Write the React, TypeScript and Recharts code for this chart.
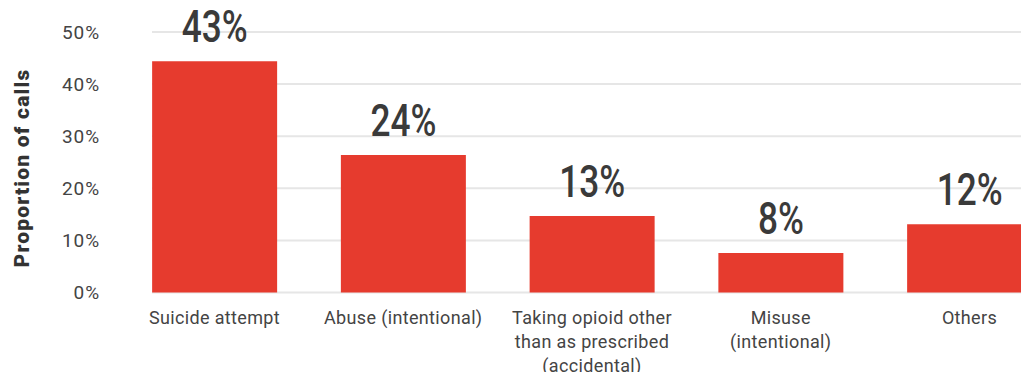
import React from "react";
import { BarChart, Bar, XAxis, YAxis, CartesianGrid, LabelList } from "recharts";

const categories = [
  "Suicide attempt",
  "Abuse (intentional)",
  "Taking opioid other\nthan as prescribed\n(accidental)",
  "Misuse\n(intentional)",
  "Others",
];
const values = [44.4, 26.4, 14.7, 7.6, 13.1];
const valueLabels = ["43%", "24%", "13%", "8%", "12%"];
const yTicks = [0, 10, 20, 30, 40, 50];

const data = categories.map((name, i) => ({
  name,
  value: values[i],
  label: valueLabels[i],
}));

const TEXT = "#444444";

function CategoryTick({ x, y, payload }: any) {
  const lines = String(payload.value).split("\n");
  return (
    <text
      x={x}
      y={y + 31}
      textAnchor="middle"
      fill={TEXT}
      fontFamily="Roboto, sans-serif"
      fontSize={18}
      letterSpacing={0.35}
    >
      {lines.map((l, i) => (
        <tspan key={i} x={x} dy={i === 0 ? 0 : 24}>
          {l}
        </tspan>
      ))}
    </text>
  );
}

function YTick({ x, y, payload }: any) {
  return (
    <text
      x={x}
      y={y + 6.5}
      textAnchor="end"
      fill={TEXT}
      fontFamily="Roboto, sans-serif"
      fontSize={19}
      letterSpacing={0.9}
    >
      {payload.value}%
    </text>
  );
}

function ValueLabel({ x, y, width, index }: any) {
  const cx = x + width / 2;
  const by = y - 19;
  return (
    <text
      x={0}
      y={0}
      transform={`translate(${cx}, ${by}) scale(0.8, 1)`}
      textAnchor="middle"
      fill="#3a3a3a"
      fontFamily="Roboto, sans-serif"
      fontWeight={500}
      fontSize={44}
    >
      {valueLabels[index]}
    </text>
  );
}

function AxisTitle() {
  return (
    <text
      x={22}
      y={168}
      transform="rotate(-90, 22, 168)"
      textAnchor="middle"
      dominantBaseline="central"
      fill="#333333"
      fontFamily="Roboto, sans-serif"
      fontWeight={900}
      fontSize={21}
      letterSpacing={1.2}
    >
      Proportion of calls
    </text>
  );
}

export default function App() {
  return (
    <div
      style={{
        position: "absolute",
        left: 0,
        top: 0,
        width: 1021,
        height: 372,
        overflow: "hidden",
        background: "#fff",
      }}
    >
      <BarChart
        width={1032}
        height={372}
        data={data}
        margin={{ top: 32, right: 0, left: 0, bottom: 0 }}
      >
        <CartesianGrid vertical={false} stroke="#e6e6e6" strokeWidth={2} />
        <XAxis
          dataKey="name"
          height={79.5}
          axisLine={false}
          tickLine={false}
          tickSize={0}
          tickMargin={0}
          interval={0}
          tick={<CategoryTick />}
          padding={{ left: -31.875, right: -31.875 }}
        />
        <YAxis
          width={152}
          domain={[0, 50]}
          ticks={yTicks}
          axisLine={false}
          tickLine={false}
          tickSize={0}
          tickMargin={52}
          tick={<YTick />}
          label={{ content: () => <AxisTitle /> }}
        />
        <Bar dataKey="value" fill="#e63b2e" barSize={125} isAnimationActive={false}>
          <LabelList dataKey="label" content={<ValueLabel />} />
        </Bar>
      </BarChart>
    </div>
  );
}
